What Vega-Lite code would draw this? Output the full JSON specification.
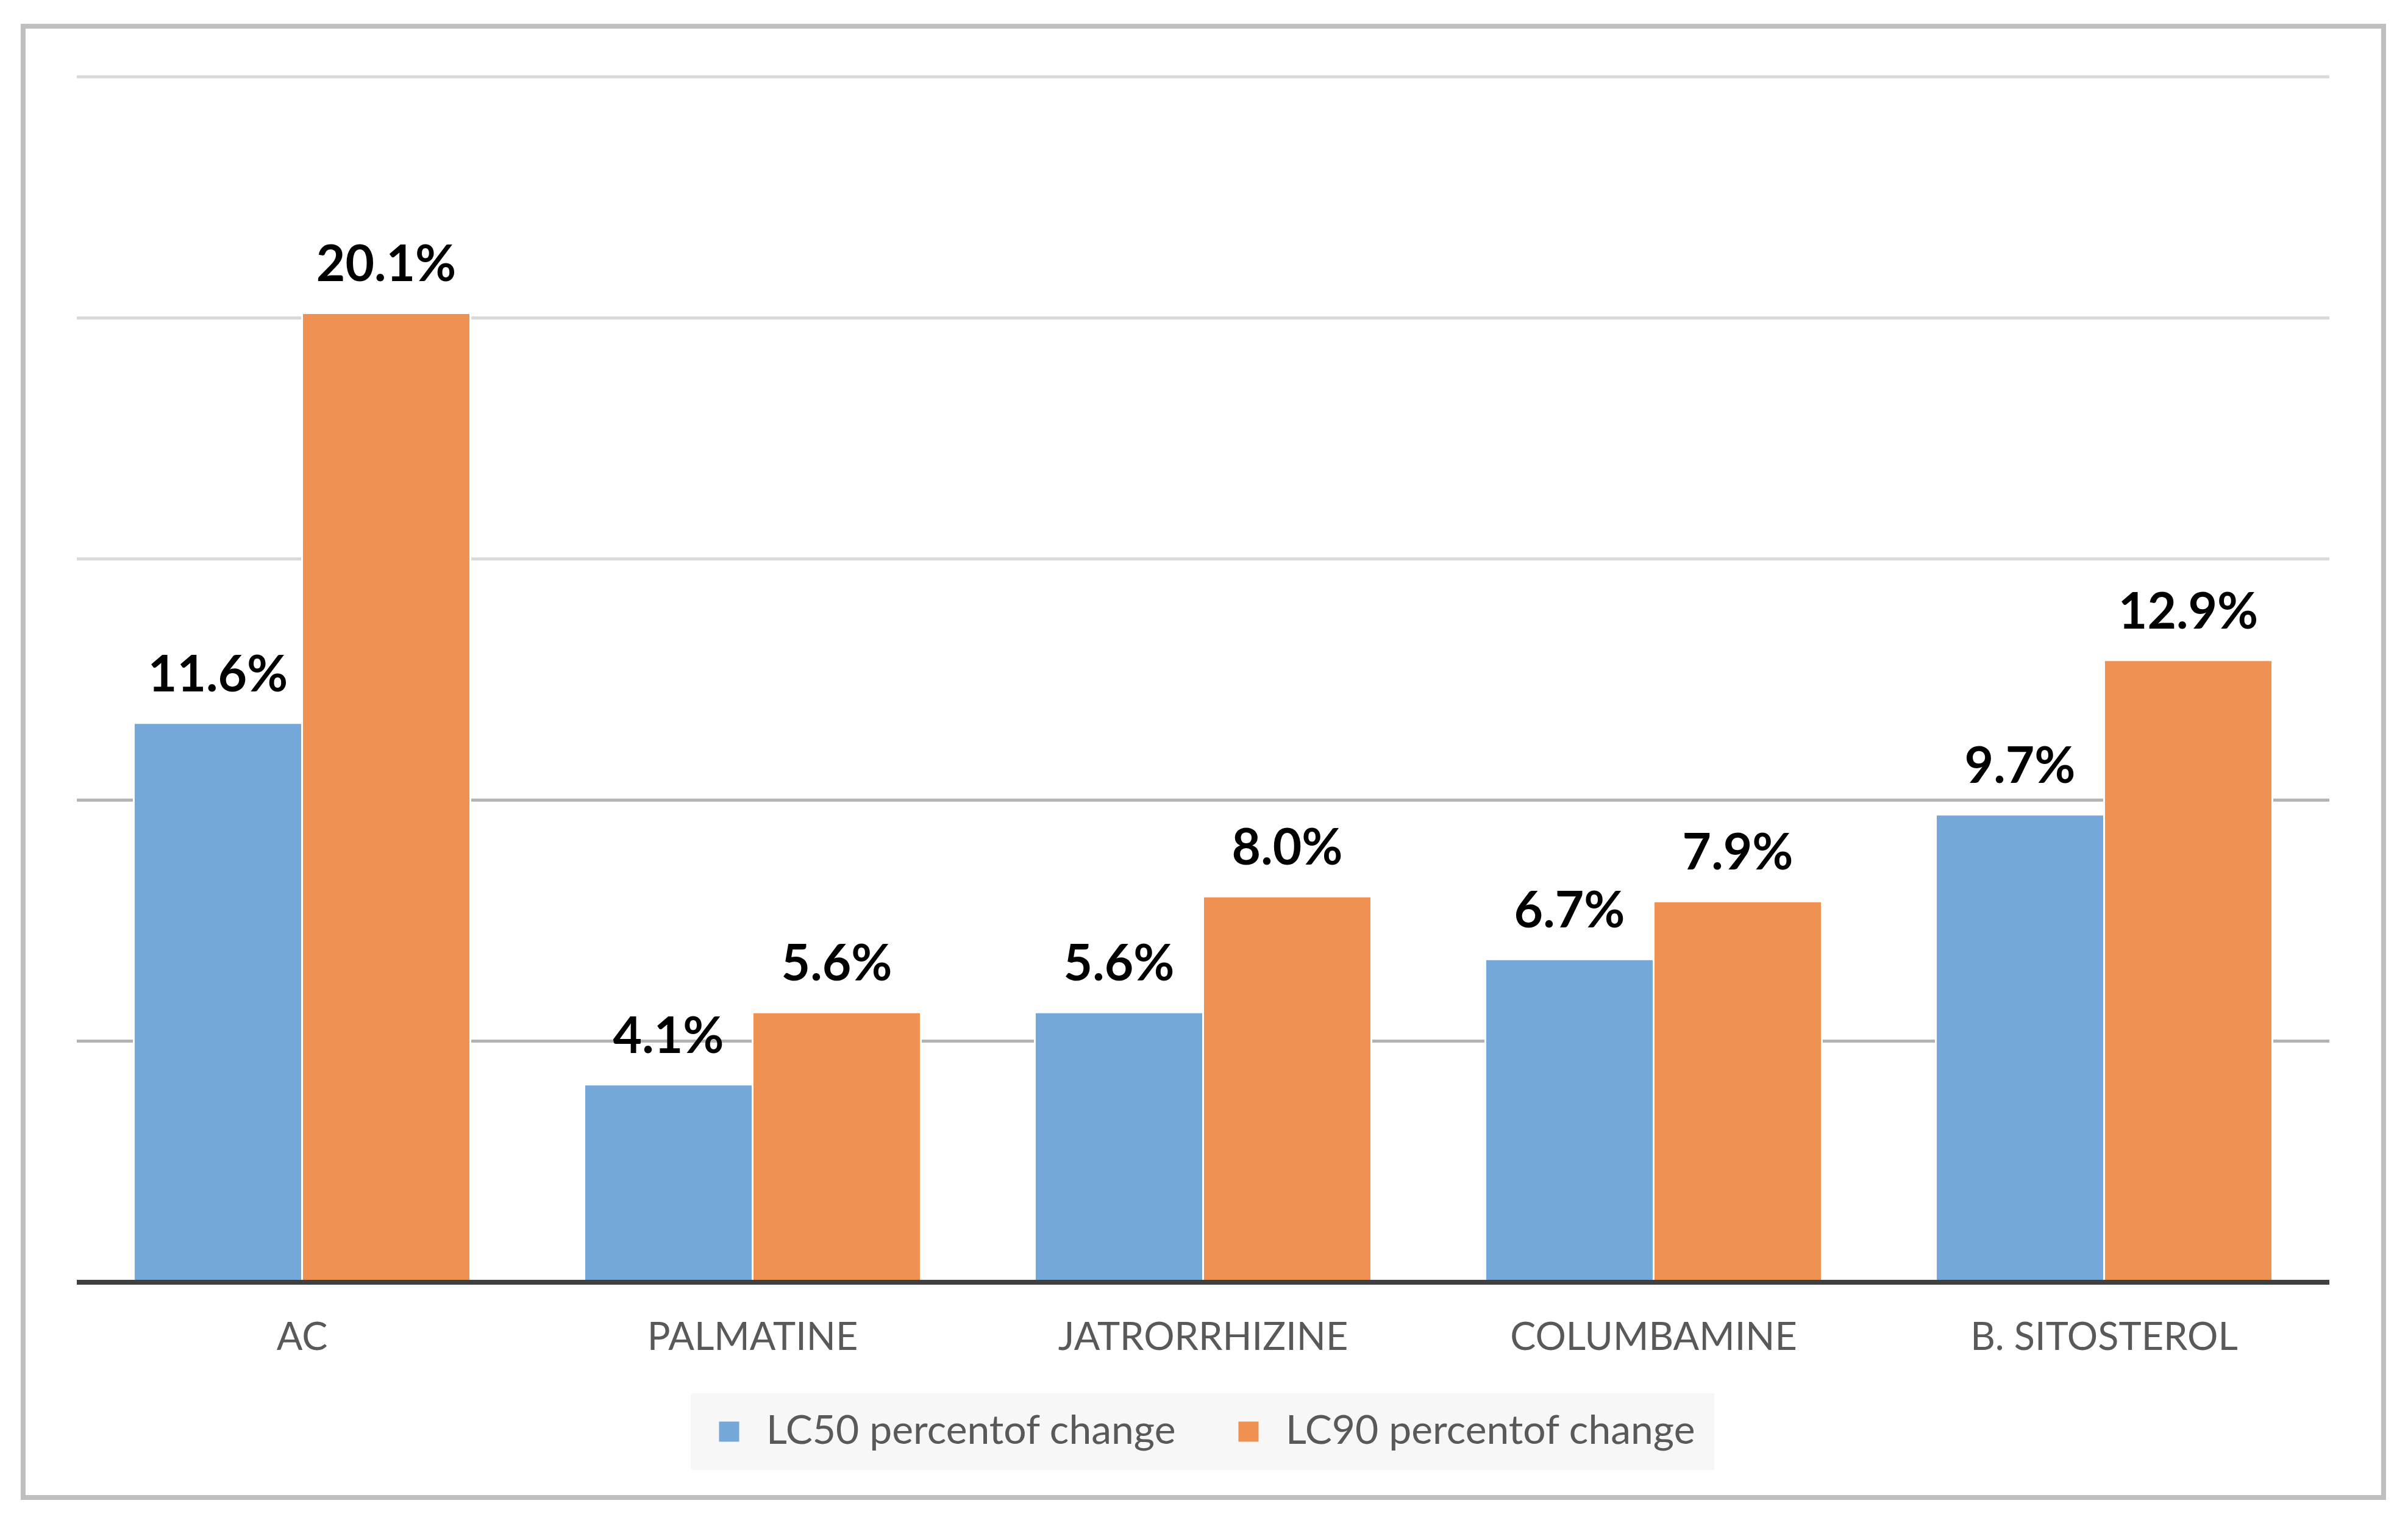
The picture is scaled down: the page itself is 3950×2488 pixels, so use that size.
{
  "$schema": "https://vega.github.io/schema/vega-lite/v6.json",
  "width": 3872,
  "height": 2413,
  "autosize": {"type": "none"},
  "padding": {"left": 38, "top": 43, "right": 40, "bottom": 32},
  "background": "white",
  "config": {
    "view": {"stroke": "#bfbfbf", "strokeWidth": 8},
    "font": "Lato"
  },
  "datasets": {
    "bars": [
      {"compound": "AC", "series": "LC50 percentof change", "value": 0.116},
      {"compound": "AC", "series": "LC90 percentof change", "value": 0.201},
      {"compound": "PALMATINE", "series": "LC50 percentof change", "value": 0.041},
      {"compound": "PALMATINE", "series": "LC90 percentof change", "value": 0.056},
      {"compound": "JATRORRHIZINE", "series": "LC50 percentof change", "value": 0.056},
      {"compound": "JATRORRHIZINE", "series": "LC90 percentof change", "value": 0.080},
      {"compound": "COLUMBAMINE", "series": "LC50 percentof change", "value": 0.067},
      {"compound": "COLUMBAMINE", "series": "LC90 percentof change", "value": 0.079},
      {"compound": "B. SITOSTEROL", "series": "LC50 percentof change", "value": 0.097},
      {"compound": "B. SITOSTEROL", "series": "LC90 percentof change", "value": 0.129}
    ],
    "gridLow": [{"v": 0.05}, {"v": 0.10}],
    "gridHigh": [{"v": 0.15}, {"v": 0.20}, {"v": 0.25}],
    "base": [{"v": 0}]
  },
  "layer": [
    {
      "data": {"name": "gridLow"},
      "mark": {"type": "rule", "stroke": "#b3b3b3", "strokeWidth": 5},
      "encoding": {
        "y": {"field": "v", "type": "quantitative", "scale": {"domain": [-0.044638, 0.260496], "nice": false, "zero": false}, "axis": null},
        "x": {"datum": 0, "type": "quantitative", "scale": {"domain": [-0.023816, 1.024087], "nice": false, "zero": false}, "axis": null},
        "x2": {"datum": 1}
      }
    },
    {
      "data": {"name": "gridHigh"},
      "mark": {"type": "rule", "stroke": "#d9d9d9", "strokeWidth": 5},
      "encoding": {
        "y": {"field": "v", "type": "quantitative"},
        "x": {"datum": 0, "type": "quantitative", "scale": {"domain": [-0.023816, 1.024087], "nice": false, "zero": false}, "axis": null},
        "x2": {"datum": 1}
      }
    },
    {
      "data": {"name": "bars"},
      "layer": [
        {
          "mark": {"type": "bar", "stroke": "white", "strokeWidth": 3},
          "encoding": {
            "x": {
              "field": "compound", "type": "nominal", "sort": null,
              "scale": {"range": [88, 3783], "paddingInner": 0.253, "paddingOuter": 0.1265},
              "axis": {
                "title": null, "domain": false, "ticks": false, "tickSize": 0,
                "labelAngle": 0, "labelFontSize": 63, "labelColor": "#595959",
                "labelPadding": 60, "offset": -353, "grid": false, "labelLimit": 1500
              }
            },
            "xOffset": {"field": "series", "type": "nominal", "sort": null},
            "y": {"field": "value", "type": "quantitative", "axis": null},
            "color": {
              "field": "series", "type": "nominal", "sort": null,
              "scale": {"range": ["#74A8D9", "#EE9152"]},
              "legend": {
                "title": null, "orient": "none", "direction": "horizontal",
                "legendX": 1095, "legendY": 2242,
                "symbolType": "square", "symbolSize": 1089, "symbolStrokeWidth": 0,
                "labelFontSize": 66, "labelColor": "#595959", "labelOffset": 28,
                "labelLimit": 1000, "columnPadding": 85,
                "padding": 30, "fillColor": "#f7f7f7"
              }
            }
          }
        },
        {
          "mark": {"type": "text", "baseline": "alphabetic", "dy": -52, "fontSize": 82, "fontWeight": "bold", "color": "#000000"},
          "encoding": {
            "x": {"field": "compound", "type": "nominal", "sort": null},
            "xOffset": {"field": "series", "type": "nominal", "sort": null},
            "y": {"field": "value", "type": "quantitative"},
            "text": {"field": "value", "type": "quantitative", "format": ".1%"}
          }
        }
      ]
    },
    {
      "data": {"name": "base"},
      "mark": {"type": "rule", "stroke": "#404040", "strokeWidth": 8},
      "encoding": {
        "y": {"field": "v", "type": "quantitative"},
        "x": {"datum": 0, "type": "quantitative", "scale": {"domain": [-0.023816, 1.024087], "nice": false, "zero": false}, "axis": null},
        "x2": {"datum": 1}
      }
    }
  ],
  "resolve": {"scale": {"x": "independent"}, "axis": {"x": "independent"}}
}
